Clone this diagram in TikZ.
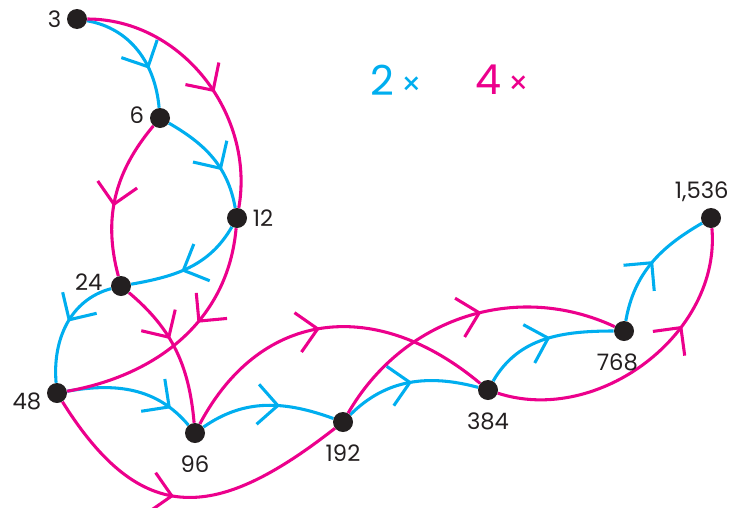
\documentclass[tikz,border=0pt]{standalone}
\usepackage{fontspec}
\setmainfont{Poppins}
\usetikzlibrary{decorations.markings,backgrounds}
\definecolor{twoblue}{HTML}{00AEEF}
\definecolor{fourpink}{HTML}{EC008C}
\definecolor{dotblack}{HTML}{231F20}
\tikzset{
  dot/.style={circle,fill=dotblack,inner sep=0pt,minimum size=15pt},
  lbl/.style={font=\fontsize{17}{17}\selectfont,text=dotblack,inner sep=1pt,label distance=3pt},
  lblb/.style={lbl,label distance=8pt},
  marked/.style={postaction={decorate},decoration={markings,mark=at position #1 with {\draw[line cap=butt,line join=miter] (-15pt,15pt) -- (0,0) -- (-15pt,-15pt);}}},
  timestwo/.style={draw,color=twoblue,line width=2.3pt,marked=#1},
  timestwo/.default=0.5,
  timesfour/.style={draw,color=fourpink,line width=2.3pt,marked=#1},
  timesfour/.default=0.5,
  keytext/.style={font=\fontsize{31}{31}\selectfont,inner sep=0pt}
}
\begin{document}
\begin{tikzpicture}[x=0.75pt,y=-0.75pt]
\useasboundingbox (0,0) rectangle (731,507);
% the numbers
\node[dot,label={[lbl]left:3}] (n3) at (77,19) {};
\node[dot,label={[lbl,yshift=2pt]left:6}] (n6) at (160,118) {};
\node[dot,label={[lbl]right:12}] (n12) at (237,218) {};
\node[dot,label={[lbl,label distance=5pt,yshift=3pt]left:24}] (n24) at (121,286) {};
\node[dot,label={[lbl,yshift=-6pt]left:48}] (n48) at (57,393) {};
\node[dot,label={[lblb]below:96}] (n96) at (195,433) {};
\node[dot,label={[lblb]below:192}] (n192) at (343,422) {};
\node[dot,label={[lblb]below:384}] (n384) at (488,390) {};
\node[dot,label={[lblb,xshift=-5pt]below:768}] (n768) at (624,331) {};
\node[dot,label={[lbl,xshift=-7pt]above:{1,536}}] (n1536) at (711,218) {};
% key
\node[keytext,text=twoblue] (keytwo) at (396,80) {2\,{\fontsize{24}{24}\selectfont ×}};
\node[keytext,text=fourpink] (keyfour) at (502,80) {4\,{\fontsize{24}{24}\selectfont ×}};
\begin{scope}[on background layer]
% times two
\draw[timestwo=0.65] (n3) to[out=-10,in=95] (n6);
\draw[timestwo=0.62] (n6) to[out=-30,in=100] (n12);
\draw[timestwo=0.55] (n12) to[out=-120,in=10] (n24);
\draw[timestwo=0.45] (n24) to[out=195,in=95] (n48);
\draw[timestwo=0.8] (n48) to[out=10,in=130] (n96);
\draw[timestwo=0.58] (n96) to[out=35,in=160] (n192);
\draw[timestwo=0.5] (n192) to[out=45,in=165] (n384);
\draw[timestwo=0.52] (n384) to[out=60,in=180] (n768);
\draw[timestwo=0.5] (n768) to[out=80,in=210] (n1536);
% times four
\draw[timesfour=0.55] (n3) to[out=0,in=80] (n12);
\draw[timesfour=0.55] (n6) to[out=-130,in=105] (n24);
\draw[timesfour=0.4] (n12) to[out=-95,in=10] (n48);
\draw[timesfour=0.4] (n24) to[out=-40,in=95] (n96);
\draw[timesfour=0.45] (n48) to[out=-58,in=218,looseness=1.4] (n192);
\draw[timesfour=0.47] (n96) to[out=62,in=140,looseness=1.2] (n384);
\draw[timesfour=0.55] (n192) to[out=60,in=155] (n768);
\draw[timesfour=0.66] (n384) to[out=-18,in=-85] (n1536);
\end{scope}
\end{tikzpicture}
\end{document}
